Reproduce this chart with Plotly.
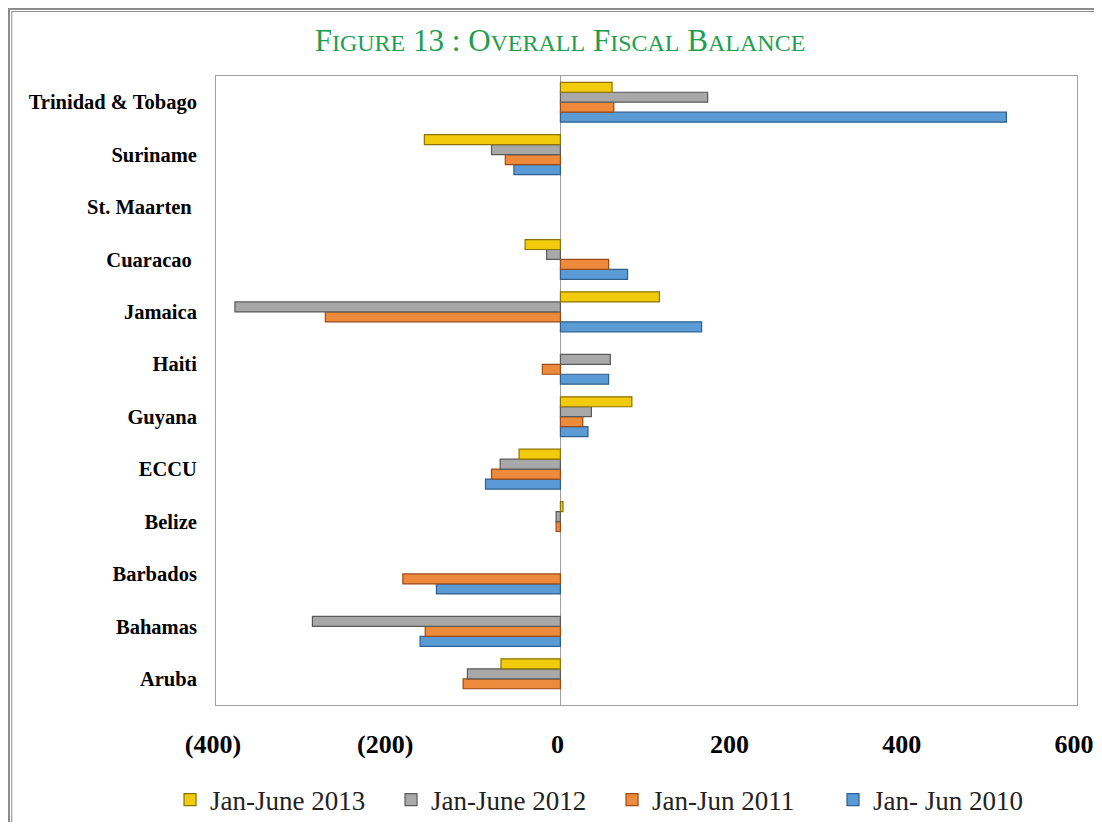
import plotly.graph_objects as go

countries = ["Aruba", "Bahamas", "Barbados", "Belize", "ECCU", "Guyana", "Haiti",
             "Jamaica", "Cuaracao\u00a0", "St. Maarten\u00a0", "Suriname", "Trinidad & Tobago"]

jun_2010 = [None, -163, -144, None, -87, 32, 56, 164, 78, None, -54, 518]
jun_2011 = [-113, -157, -183, -5, -80, 26, -21, -273, 56, None, -64, 62]
jun_2012 = [-108, -288, None, -5, -70, 36, 58, -378, -16, None, -80, 171]
jun_2013 = [-69, None, None, 3, -48, 83, None, 115, -41, None, -158, 60]

xticks = [-400, -200, 0, 200, 400, 600]
xtick_text = ["(400)", "(200)", "0", "200", "400", "600"]

# drawn bottom-to-top inside each group: blue first, yellow last
series = [
    ("Jan- Jun 2010", jun_2010, "#5B9BD5", "#2E5F8E"),
    ("Jan-Jun 2011", jun_2011, "#EE8A3C", "#9C4A14"),
    ("Jan-June 2012", jun_2012, "#A8A8A8", "#5A5A5A"),
    ("Jan-June 2013", jun_2013, "#F2CC0C", "#8C7200"),
]

fig = go.Figure()
for name, vals, fill, edge in series:
    fig.add_trace(go.Bar(
        y=countries, x=vals, name=name, orientation="h",
        marker=dict(color=fill, line=dict(color=edge, width=1.2)),
    ))

sc = 'style="font-size:24px"'
title = (f"F<span {sc}>IGURE</span> 13 : O<span {sc}>VERALL</span> "
         f"F<span {sc}>ISCAL</span> B<span {sc}>ALANCE</span>")

# page body has an 8px margin all round; keep the figure small enough to avoid scrollbars
fig.update_layout(
    width=1086, height=814,
    paper_bgcolor="white", plot_bgcolor="white",
    margin=dict(l=208, r=17, t=68, b=117, autoexpand=False),
    barmode="group", bargap=0.24, bargroupgap=0,
    title=dict(text=title, x=0.5083, xref="container", xanchor="center",
               y=0.9607, yref="container", yanchor="middle",
               font=dict(family="Liberation Serif", size=31, color="#1E9E4E")),
    legend=dict(orientation="h", traceorder="reversed", bgcolor="rgba(0,0,0,0)",
                x=-0.0534, xanchor="left", y=-0.151, yanchor="middle",
                font=dict(family="Liberation Serif", size=27, color="#222222"),
                entrywidth=176, entrywidthmode="pixels"),
    xaxis=dict(range=[-400, 600], tickvals=xticks, ticktext=xtick_text, automargin=False,
               showgrid=False, zeroline=True, zerolinecolor="#A0A0A0", zerolinewidth=1,
               showline=True, linecolor="#A0A0A0", linewidth=1, mirror=True,
               ticks="outside", ticklen=16, tickcolor="rgba(0,0,0,0)",
               ticklabeloverflow="allow", ticklabelshift=-3,
               tickfont=dict(family="Liberation Serif", size=26, color="black", weight="bold")),
    yaxis=dict(showgrid=False, showline=True, linecolor="#A0A0A0", linewidth=1, mirror=True,
               ticks="outside", ticklen=14, tickcolor="rgba(0,0,0,0)", automargin=False,
               tickfont=dict(family="Liberation Serif", size=20.5, color="black", weight="bold")),
    shapes=[
        dict(type="rect", xref="paper", yref="paper",
             x0=-0.2404, x1=1.05, y0=-0.25, y1=1.1065,
             line=dict(color="#8C8C8C", width=2)),
        dict(type="rect", xref="paper", yref="paper",
             x0=-0.2372, x1=1.05, y0=-0.25, y1=1.1025,
             line=dict(color="#8C8C8C", width=1)),
    ],
)

fig.write_html("out.html")
